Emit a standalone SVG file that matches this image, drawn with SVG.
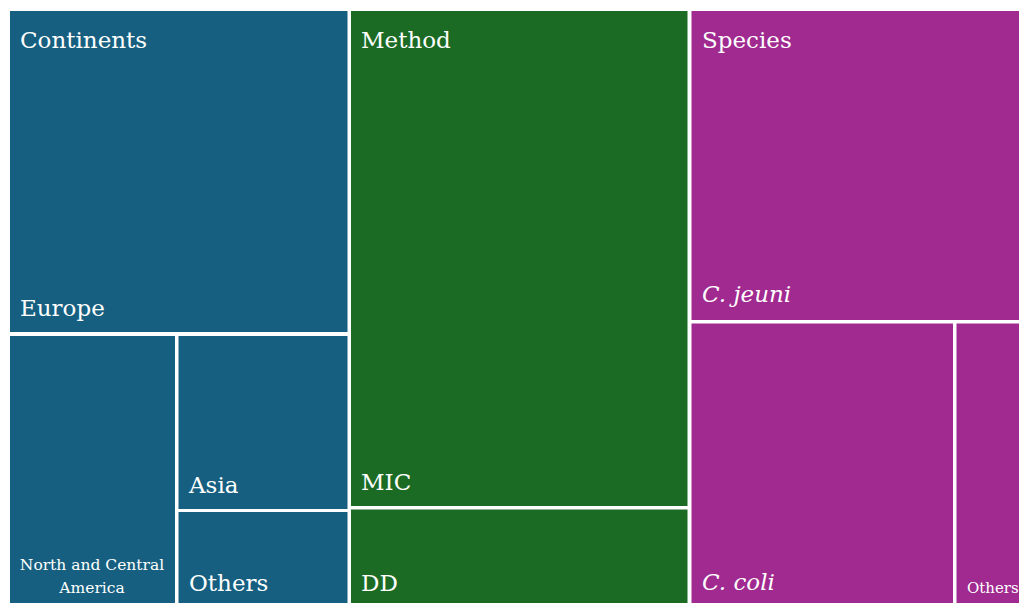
<svg xmlns="http://www.w3.org/2000/svg" width="1019" height="603" viewBox="0 0 1019 603">
<style>
.b{fill:#165f80}
.g{fill:#1b6b24}
.p{fill:#a02a8f}
text{font-family:"DejaVu Serif","Liberation Serif",serif;fill:#fff}
.L{font-size:23px}
.S{font-size:15.5px}
.i{font-style:italic}
</style>
<rect width="1019" height="603" fill="#fff"/>
<g id="continents">
<rect class="b" x="10" y="11" width="337.5" height="321"/>
<text class="L" x="20" y="48">Continents</text>
<text class="L" x="20" y="316">Europe</text>
</g>
<g id="north-central-america">
<rect class="b" x="10" y="336" width="165" height="267"/>
<text class="S" text-anchor="middle" x="92" y="570">North and Central</text>
<text class="S" text-anchor="middle" x="92" y="593">America</text>
</g>
<g id="asia">
<rect class="b" x="178.5" y="336" width="169" height="173"/>
<text class="L" x="189" y="493">Asia</text>
</g>
<g id="others-continents">
<rect class="b" x="178.5" y="512" width="169" height="91"/>
<text class="L" x="189" y="591">Others</text>
</g>
<g id="method">
<rect class="g" x="351" y="11" width="336.5" height="495"/>
<text class="L" x="361" y="48">Method</text>
<text class="L" x="361" y="490">MIC</text>
</g>
<g id="dd">
<rect class="g" x="351" y="509.5" width="336.5" height="93.5"/>
<text class="L" x="361" y="591">DD</text>
</g>
<g id="species">
<rect class="p" x="691.5" y="11" width="327.5" height="309"/>
<text class="L" x="702" y="48">Species</text>
<text class="L i" x="702" y="302">C. jeuni</text>
</g>
<g id="c-coli">
<rect class="p" x="691.5" y="323.5" width="261.5" height="279.5"/>
<text class="L i" x="702" y="590">C. coli</text>
</g>
<g id="others-species">
<rect class="p" x="956.5" y="323.5" width="62.5" height="279.5"/>
<text x="967" y="593" style="font-size:15px">Others</text>
</g>
<g id="connectors"></g>
</svg>
